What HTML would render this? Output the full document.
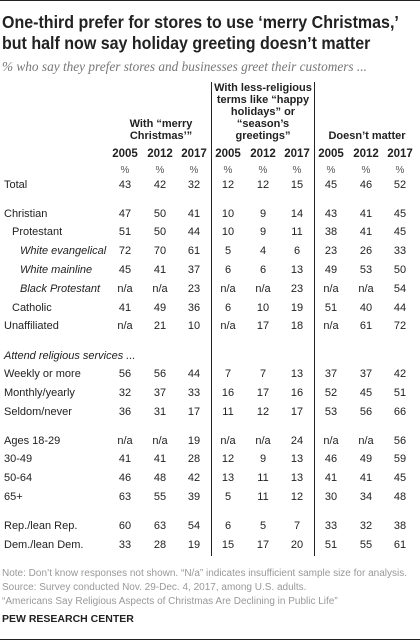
<!DOCTYPE html>
<html><head><meta charset="utf-8"><style>
body{margin:0;width:420px;height:641px;background:#fff;position:relative;overflow:hidden;font-family:"Liberation Sans",sans-serif;color:#222}
.a{position:absolute;white-space:nowrap}
.t{font-weight:bold;font-size:17.5px;left:2px;transform:scaleX(0.915);transform-origin:left top}
.lab{font-size:11px;left:4px}
.c{font-size:11px;width:30px;text-align:center}
.h{font-size:11px;font-weight:bold;text-align:center}
.n{font-size:10px;color:#999;left:2px}
</style></head><body>
<div class="a" style="left:0;top:0;width:420px;height:1px;background:#222"></div>
<div class="a t" style="top:12px">One-third prefer for stores to use ‘merry Christmas,’</div>
<div class="a t" style="top:33px">but half now say holiday greeting doesn’t matter</div>
<div class="a" style="left:2px;top:59px;font-family:'Liberation Serif',serif;font-style:italic;font-size:13.3px;color:#777">% who say they prefer stores and businesses greet their customers ...</div>
<div class="a" style="left:211px;top:82px;width:1px;height:474px;background:#222"></div>
<div class="a" style="left:314px;top:82px;width:1px;height:474px;background:#222"></div>
<div class="a h" style="left:112px;top:118px;width:98px;line-height:12px">With “merry<br>Christmas’”</div>
<div class="a h" style="left:212px;top:82px;width:102px;line-height:12px">With less-religious<br>terms like “happy<br>holidays” or<br>“season’s<br>greetings”</div>
<div class="a h" style="left:315px;top:130px;width:104px;line-height:12px">Doesn’t matter</div>
<div id="tbl"></div>
<div class="a n" style="top:568px">Note: Don’t know responses not shown. “N/a” indicates insufficient sample size for analysis.</div>
<div class="a n" style="top:582px">Source: Survey conducted Nov. 29-Dec. 4, 2017, among U.S. adults.</div>
<div class="a n" style="top:596px">“Americans Say Religious Aspects of Christmas Are Declining in Public Life”</div>
<div class="a" style="left:2px;top:613px;font-size:10.5px;font-weight:bold;color:#222">PEW RESEARCH CENTER</div>
<div class="a" style="left:0;top:639px;width:420px;height:1px;background:#222"></div>
<script>
const years=["2005","2012","2017"];
const colX=[125,160,194,228,263,297,331,366,400];
const labels=["Total","Christian","Protestant","White evangelical","White mainline","Black Protestant","Catholic","Unaffiliated","Attend religious services ...","Weekly or more","Monthly/yearly","Seldom/never","Ages 18-29","30-49","50-64","65+","Rep./lean Rep.","Dem./lean Dem."];
const rowY=[186,215,233,252,271,290,309,327,357,375,394,413,442,460,479,498,527,546];
const indent=[0,0,1,2,2,2,1,0,0,0,0,0,0,0,0,0,0,0];
const italicRow=[0,0,0,1,1,1,0,0,1,0,0,0,0,0,0,0,0,0];
const values=[
["43","42","32","12","12","15","45","46","52"],
["47","50","41","10","9","14","43","41","45"],
["51","50","44","10","9","11","38","41","45"],
["72","70","61","5","4","6","23","26","33"],
["45","41","37","6","6","13","49","53","50"],
["n/a","n/a","23","n/a","n/a","23","n/a","n/a","54"],
["41","49","36","6","10","19","51","40","44"],
["n/a","21","10","n/a","17","18","n/a","61","72"],
null,
["56","56","44","7","7","13","37","37","42"],
["32","37","33","16","17","16","52","45","51"],
["36","31","17","11","12","17","53","56","66"],
["n/a","n/a","19","n/a","n/a","24","n/a","n/a","56"],
["41","41","28","12","9","13","46","49","59"],
["46","48","42","13","11","13","41","41","45"],
["63","55","39","5","11","12","30","34","48"],
["60","63","54","6","5","7","33","32","38"],
["33","28","19","15","17","20","51","55","61"]];
const tbl=document.getElementById('tbl');
function mk(cls,txt,x,y,extra){const d=document.createElement('div');d.className='a '+cls;d.textContent=txt;d.style.left=x+'px';d.style.top=(y-7)+'px';if(extra)d.style.cssText+=extra;tbl.appendChild(d);return d;}
colX.forEach((x,i)=>{
const e=mk('c',years[i%3],x-15,155,'font-weight:bold;font-size:11.5px');


const p=mk('c','%',x-15,172,'color:#555;font-size:10px');


});
labels.forEach((l,r)=>{
const e=mk('lab',l,4+indent[r]*8,rowY[r],italicRow[r]?'font-style:italic':'');


if(!values[r])return;
values[r].forEach((v,c)=>{
const d=mk('c',v,colX[c]-15,rowY[r]);


});
});
</script>
</body></html>
